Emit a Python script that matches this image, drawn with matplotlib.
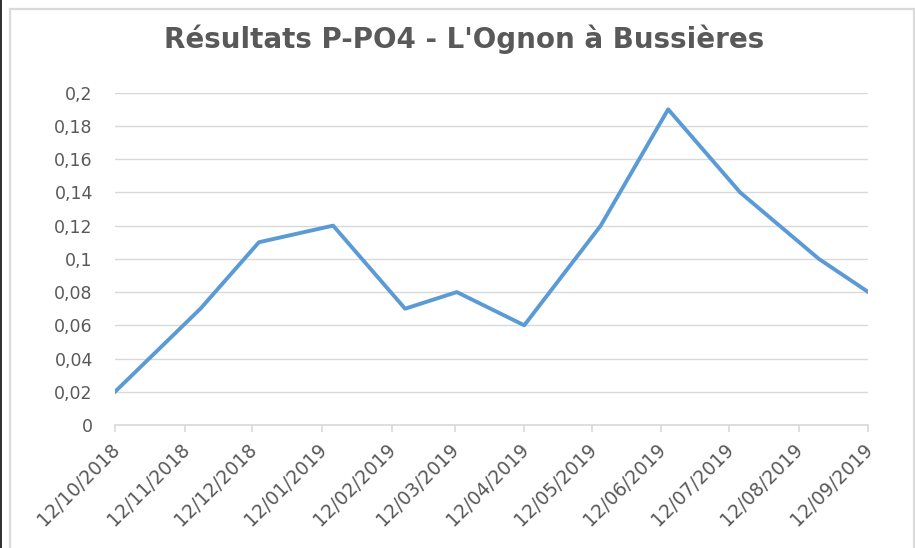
import numpy as np
import pandas as pd
import matplotlib
matplotlib.use("Agg")
import matplotlib.pyplot as plt
from matplotlib.patches import Rectangle
from matplotlib.transforms import ScaledTranslation

# sample dates and P-PO4 results (mg/L)
dates = pd.to_datetime(["2018-10-12", "2018-11-19", "2018-12-15", "2019-01-17",
                        "2019-02-18", "2019-03-13", "2019-04-12", "2019-05-16",
                        "2019-06-15", "2019-07-17", "2019-08-21", "2019-09-12"])
values = [0.02, 0.07, 0.11, 0.12, 0.07, 0.08, 0.06, 0.12, 0.19, 0.14, 0.10, 0.08]

tick_dates = pd.date_range("2018-10-01", periods=12, freq="MS") + pd.Timedelta(days=11)
tick_labels = [d.strftime("%d/%m/%Y") for d in tick_dates]
y_ticks = [0, 0.02, 0.04, 0.06, 0.08, 0.1, 0.12, 0.14, 0.16, 0.18, 0.2]
y_labels = ["0", "0,02", "0,04", "0,06", "0,08", "0,1", "0,12", "0,14", "0,16", "0,18", "0,2"]

txt = "#595959"
grid = "#d9d9d9"

fig = plt.figure(figsize=(9.15, 5.48), dpi=100)
ax = fig.add_axes([115/915, 1-425/548, (868.3-115)/915, (425-92.7)/548])

ax.plot(dates, values, color="#5b9bd5", lw=2.8, solid_joinstyle="round", zorder=3)

ax.set_ylim(0, 0.2)
ax.set_yticks(y_ticks)
ax.set_yticklabels(y_labels)
ax.set_xlim(tick_dates[0], tick_dates[-1])
ax.set_xticks(tick_dates)
ax.set_xticklabels(tick_labels, rotation=45, ha="right", rotation_mode="anchor")

ax.grid(axis="y", color=grid, lw=1)
ax.set_axisbelow(True)
for s in ["top", "right", "left"]:
    ax.spines[s].set_visible(False)
ax.spines["bottom"].set_color(grid)
ax.spines["bottom"].set_linewidth(1.2)
ax.tick_params(axis="y", length=0, pad=16, labelsize=12.5, labelcolor=txt)
ax.tick_params(axis="x", length=5, width=1.2, color=grid, pad=3, labelsize=13.5, labelcolor=txt)

# nudge the date labels a little down and left, like the original
shift = ScaledTranslation(-5/100, -4/100, fig.dpi_scale_trans)
for lab in ax.get_xticklabels():
    lab.set_transform(lab.get_transform() + shift)

fig.text(0.507, 1-48.3/548, "Résultats P-PO4 - L'Ognon à Bussières", ha="center", va="baseline",
         fontsize=20, fontweight="bold", color=txt)

# outer frame of the screenshot
fig.patches.append(Rectangle((9.5/915, -0.05), (913.5-9.5)/915, 1.05 - 9/548, transform=fig.transFigure,
                             fill=False, ec="#dadada", lw=1.6))
fig.patches.append(Rectangle((0, 0), 2/915, 1, transform=fig.transFigure,
                             fc="#333333", ec="none"))

fig.savefig("out.png", dpi=100)
